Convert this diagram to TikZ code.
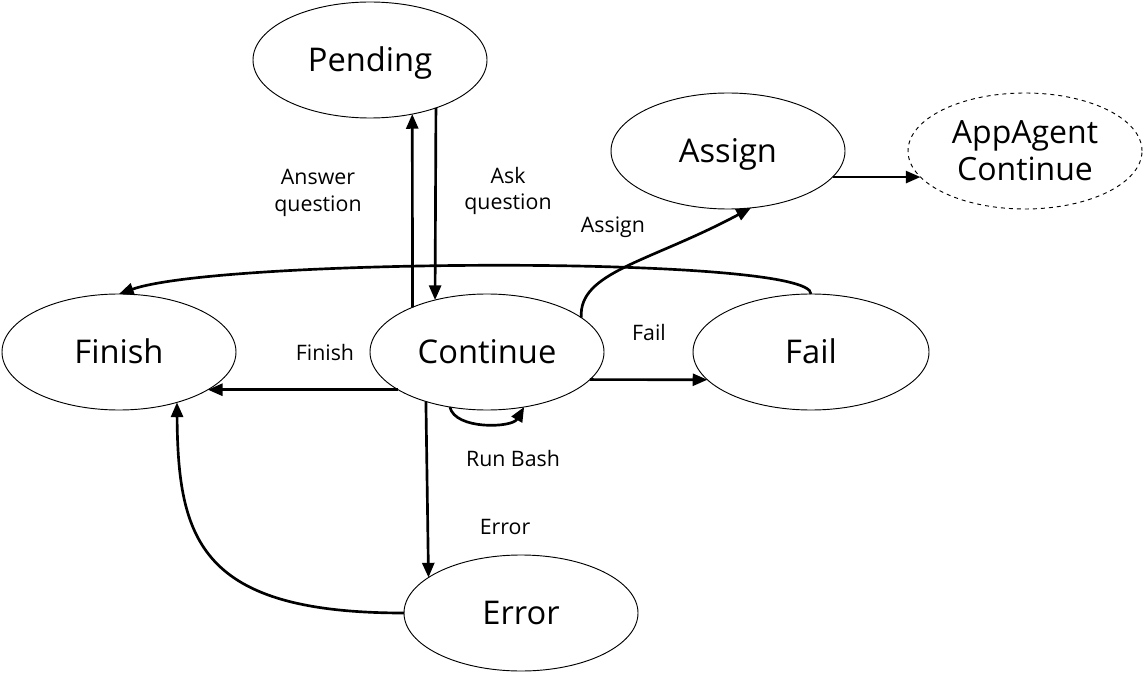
\documentclass[tikz,border=0pt]{standalone}
\usepackage{fontspec}
\setmainfont{Open Sans}
\usetikzlibrary{shapes.geometric,arrows.meta}
\tikzset{
  state/.style={ellipse,draw,line width=0.7pt,minimum width=175.5pt,minimum height=87pt,inner sep=0pt,outer sep=0pt,font=\fontsize{24.5}{28}\selectfont,text height=17.5pt,text depth=0pt},
  ghost/.style={ellipse,draw,dashed,line width=0.7pt,minimum width=175.5pt,minimum height=87pt,inner sep=0pt,outer sep=0pt,font=\fontsize{24}{28}\selectfont,align=center},
  conn/.style={line width=2pt,-{Triangle[length=11pt,width=9pt]}},
  lab/.style={font=\fontsize{16}{20}\selectfont,align=center,inner sep=0pt}
}
\begin{document}
\begin{tikzpicture}[x=0.75pt,y=-0.75pt]
\useasboundingbox (0,0) rectangle (1144,673);
\node[state] (pend) at (370,60) {Pending};
\node[state] (asg) at (728,151) {Assign};
\node[ghost] (app) at (1025,151) {AppAgent\\Continue};
\node[state] (fin) at (119,352) {Finish};
\node[state] (cont) at (487,352) {Continue};
\node[state,minimum width=177pt] (fail) at (811,352) {Fail};
\node[state] (err) at (521,613) {Error};

\node[lab] (lans) at (318,193) {Answer\\question};
\node[lab] (lask) at (508,191) {Ask\\question};
\node[lab] (lasg) at (613,227) {Assign};
\node[lab] (lfail) at (649,332) {Fail};
\node[lab] (lfin) at (325,352) {Finish};
\node[lab] (lrun) at (513,458) {Run Bash};
\node[lab] (lerr) at (505,527) {Error};

\draw[conn] (cont.149.3) -- (pend.-52.2);
\draw[conn] (pend.-36.6) -- (cont.135);
\draw[conn] (cont.203.3) -- (fin.-23.3);
\draw[conn] (cont.-15.3) -- (fail.195.2);
\draw[conn] (cont.219.7) -- (err.159.8);
\draw[conn] (cont.236.9) .. controls (455,430) and (512,428) .. (cont.-56.9);
\draw[conn] (err.west) .. controls (200,613) and (178,540) .. (fin.-41);
\draw[conn] (fail.north) .. controls (812,255) and (220,258) .. (fin.north);
\draw[conn] (cont.20.7) .. controls (578,272) and (650,262) .. (asg.-68.9);
\draw[conn] (asg.-14) -- (app.194);
\end{tikzpicture}
\end{document}
